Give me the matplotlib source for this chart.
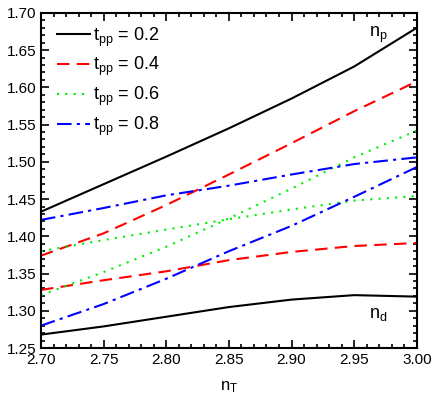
import matplotlib.pyplot as plt
from matplotlib.ticker import MultipleLocator

plt.rcParams['font.family'] = 'Liberation Sans'
plt.rcParams['mathtext.fontset'] = 'custom'
plt.rcParams['mathtext.rm'] = 'Liberation Sans'
plt.rcParams['mathtext.it'] = 'Liberation Sans'

# values
nT = [2.70, 2.75, 2.80, 2.85, 2.90, 2.95, 3.00]
tpp = ["0.2", "0.4", "0.6", "0.8"]

np_02 = [1.433, 1.470, 1.507, 1.545, 1.585, 1.628, 1.680]
nd_02 = [1.268, 1.279, 1.292, 1.305, 1.315, 1.321, 1.319]
np_04 = [1.374, 1.404, 1.442, 1.483, 1.525, 1.568, 1.608]
nd_04 = [1.328, 1.341, 1.353, 1.368, 1.379, 1.387, 1.391]
np_06 = [1.321, 1.352, 1.386, 1.424, 1.464, 1.506, 1.542]
nd_06 = [1.380, 1.395, 1.409, 1.423, 1.436, 1.448, 1.454]
np_08 = [1.280, 1.309, 1.343, 1.380, 1.414, 1.453, 1.493]
nd_08 = [1.422, 1.438, 1.455, 1.468, 1.483, 1.497, 1.506]

colors = ["black", "red", "#00ee00", "blue"]
styles = ["-", (0, (6, 3.5)), (0, (1, 3)), (0, (7, 2.5, 1.5, 2.5))]
pairs = [(np_02, nd_02), (np_04, nd_04), (np_06, nd_06), (np_08, nd_08)]

fig = plt.figure(figsize=(4.36, 3.98), dpi=100)
ax = fig.add_axes([0.094, 0.1256, 0.862, 0.842])

for (a, b), c, ls, t in zip(pairs, colors, styles, tpp):
    ax.plot(nT, a, color=c, ls=ls, lw=1.5, label=r"$\mathrm{t_{pp}}$ = " + t)
    ax.plot(nT, b, color=c, ls=ls, lw=1.5)

ax.set_xlim(2.70, 3.00)
ax.set_ylim(1.25, 1.70)
ax.xaxis.set_major_locator(MultipleLocator(0.05))
ax.xaxis.set_minor_locator(MultipleLocator(0.01))
ax.yaxis.set_major_locator(MultipleLocator(0.05))
ax.yaxis.set_minor_locator(MultipleLocator(0.01))
ax.xaxis.set_major_formatter(plt.FormatStrFormatter('%.2f'))
ax.yaxis.set_major_formatter(plt.FormatStrFormatter('%.2f'))
ax.tick_params(which='both', direction='in', top=True, right=True, width=1.2, labelsize=11)
ax.tick_params(which='major', length=6)
ax.tick_params(which='minor', length=3)
for s in ax.spines.values():
    s.set_linewidth(1.5)

ax.text(2.962, 1.667, r"$\mathrm{n_p}$", fontsize=13)
ax.text(2.962, 1.290, r"$\mathrm{n_d}$", fontsize=13)
ax.set_xlabel(r"$\mathrm{n_T}$", fontsize=12, labelpad=9)

ax.legend(loc='upper left', bbox_to_anchor=(0.012, 0.998), frameon=False, fontsize=13,
          handlelength=1.8, handletextpad=0.2, labelspacing=0.37, borderaxespad=0.25)

fig.savefig("out.png", dpi=100)
